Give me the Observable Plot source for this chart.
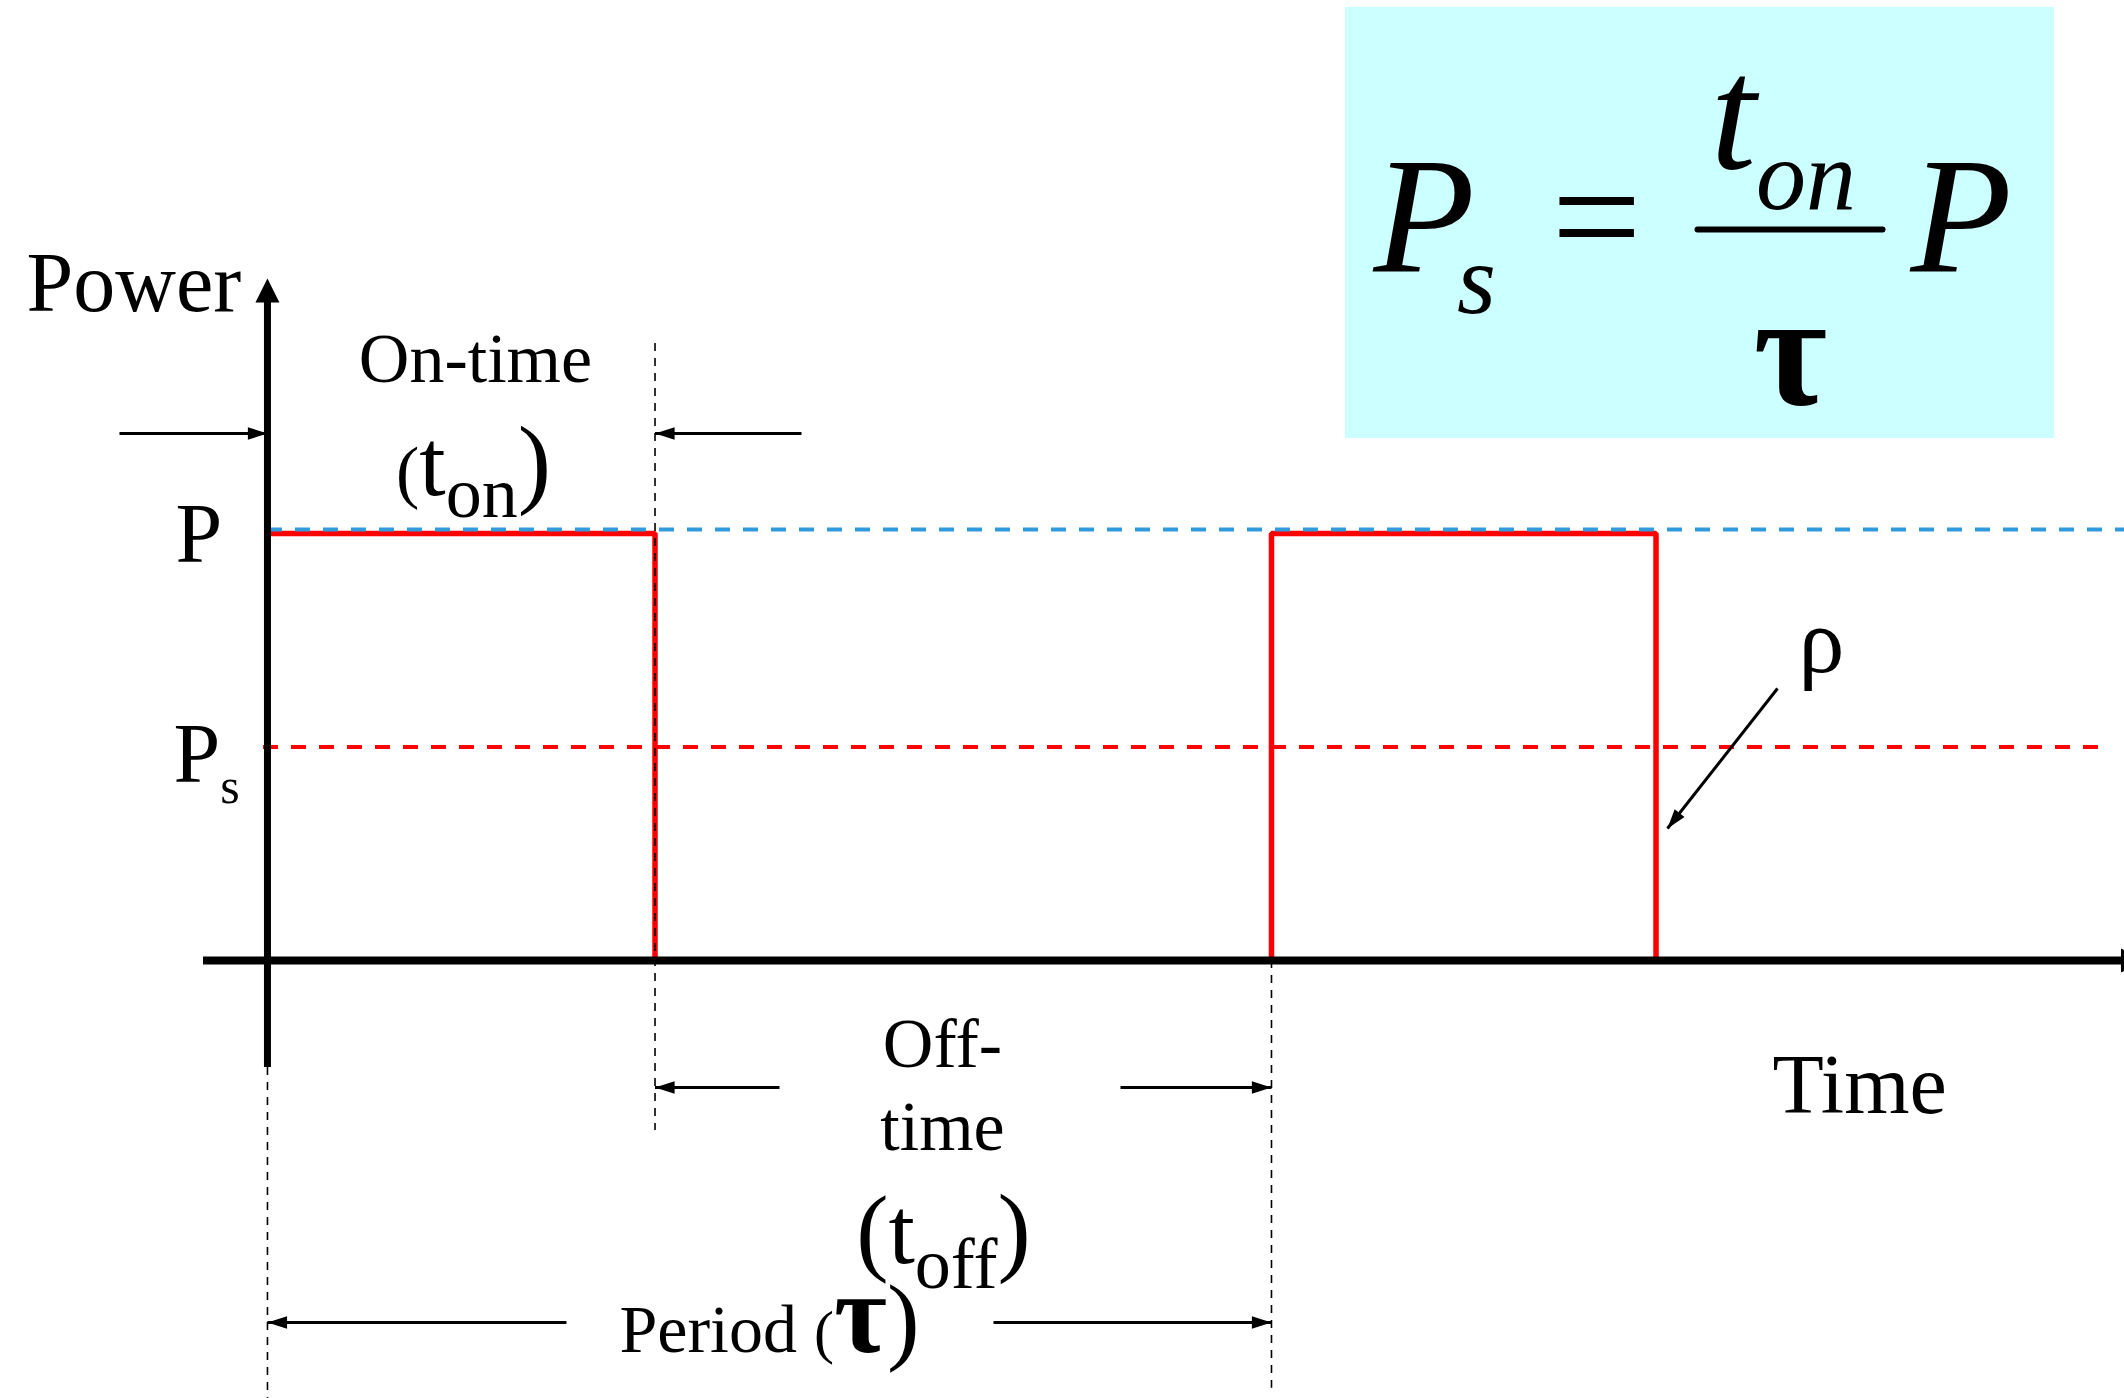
<!DOCTYPE html>
<html><head><meta charset="utf-8">
<script src="https://cdn.jsdelivr.net/npm/d3@7"></script>
<script src="https://cdn.jsdelivr.net/npm/@observablehq/plot@0.6"></script>
<style>html,body{margin:0;padding:0;background:#fff;overflow:hidden}</style>
</head><body><div id="chart"></div>
<script>
// ---------------- data ----------------
const onTimes = [0, 10];          // rising edges (period τ = 10)
const offTimes = [3.86, 13.83];   // falling edges (t_on ≈ 3.86)
const powerP = 1;                 // peak power P
const powerPs = 0.5;              // average power Ps (as drawn)
const levelLabels = ["P", "Ps"];
const axisLabels = ["Power", "Time"];
const intervalLabels = ["On-time", "(ton)", "Off-", "time", "(toff)", "Period (τ)"];
const dutyLabel = ["ρ"];
const formulaParts = ["Ps", "=", "ton", "τ", "P"];

// ---------------- scales (data units) ----------------
const W = 2124, H = 1398;
const xDomain = [-2.659, 18.496];
const yDomain = [-1.0258, 2.2482];
const kx = W / (xDomain[1] - xDomain[0]);
const ky = H / (yDomain[1] - yDomain[0]);

// pulse train built from edges
const pulse = [];
onTimes.forEach((t, i) => {
  pulse.push({t, p: 0});
  pulse.push({t, p: powerP});
  pulse.push({t: offTimes[i], p: powerP});
  pulse.push({t: offTimes[i], p: 0});
});

// ---------------- annotation layout ----------------
const yOnArrow = 1.2342, yOffArrow = -0.2974, yPeriodArrow = -0.8478;
const guides = [
  {x: onTimes[0], y1: -0.2506, y2: yDomain[0]},
  {x: offTimes[0], y1: 1.445, y2: -0.398},
  {x: onTimes[1], y1: 0, y2: -1.002}
];
const arrows = [
  {x1: -1.474, y1: yOnArrow, x2: onTimes[0], y2: yOnArrow},
  {x1: 5.319, y1: yOnArrow, x2: offTimes[0], y2: yOnArrow},
  {x1: 5.10, y1: yOffArrow, x2: offTimes[0], y2: yOffArrow},
  {x1: 8.496, y1: yOffArrow, x2: onTimes[1], y2: yOffArrow},
  {x1: 2.978, y1: yPeriodArrow, x2: onTimes[0], y2: yPeriodArrow},
  {x1: 7.231, y1: yPeriodArrow, x2: onTimes[1], y2: yPeriodArrow},
  {x1: 15.04, y1: 0.637, x2: 13.944, y2: 0.309}
];
const axisHeads = [
  {x1: 0, y1: 0, x2: 0, y2: 1.597},
  {x1: 0, y1: 0, x2: 18.70, y2: 0}
];
const rot = d => Math.atan2((d.x2 - d.x1) * kx, (d.y2 - d.y1) * ky) * 180 / Math.PI;

const headNarrow = {draw(ctx, size) { const r = Math.sqrt(size / Math.PI);
  ctx.moveTo(0, 0); ctx.lineTo(-0.45 * r, 1.4 * r); ctx.lineTo(0.45 * r, 1.4 * r); ctx.closePath(); }};
const headWide = {draw(ctx, size) { const r = Math.sqrt(size / Math.PI);
  ctx.moveTo(0, 0); ctx.lineTo(-0.5 * r, r); ctx.lineTo(0.5 * r, r); ctx.closePath(); }};

const lbl = (text, x, y, o = {}) => Plot.text([{text, x, y, id: o.id || ""}], {
  x: "x", y: "y", text: "text", lineAnchor: "bottom",
  textAnchor: o.anchor || "middle", fontSize: o.size,
  fontStyle: o.style, fontWeight: o.weight, ariaLabel: "id", fill: "black"
});

// rich-text styling (sizes / sub-script offsets)
const rich = {
  "lvl-ps": [{s: "P", size: 84}, {s: "s", size: 50, dy: 21}],
  "ton-lbl": [{s: "(", size: 70}, {s: "t", size: 95}, {s: "on", size: 72, dy: 22}, {s: ")", size: 100, dy: -22}],
  "toff-lbl": [{s: "(", size: 97}, {s: "t", size: 95}, {s: "off", size: 72, dy: 25}, {s: ")", size: 100, dy: -25}],
  "period-lbl": [{s: "Period ", size: 68}, {s: "(", size: 60}, {s: "τ", size: 115, weight: "bold"}, {s: ")", size: 98}],
  "f-ps": [{s: "P", size: 166, style: "italic"}, {s: "s", size: 100, style: "italic", dy: 41, dx: -18}],
  "f-ton": [{s: "t", size: 164, style: "italic"}, {s: "on", size: 100, style: "italic", dy: 41}]
};

const chart = Plot.plot({
  width: W, height: H,
  marginTop: 0, marginRight: 0, marginBottom: 0, marginLeft: 0,
  x: {domain: xDomain, axis: null},
  y: {domain: yDomain, axis: null},
  style: {fontFamily: "'Liberation Serif', 'Times New Roman', serif", background: "white", color: "black"},
  marks: [
    // formula box
    Plot.rect([{x1: 10.737, x2: 17.799, y1: 1.2225, y2: 2.232}], {x1: "x1", x2: "x2", y1: "y1", y2: "y2", fill: "#ccffff"}),
    // pulse train
    Plot.line(pulse, {x: "t", y: "p", stroke: "#ff0000", strokeWidth: 5.5, strokeLinejoin: "miter"}),
    // average power
    Plot.ruleY([powerPs], {x1: -0.04, x2: 18.257, stroke: "#ff0000", strokeWidth: 4, strokeDasharray: "15,13"}),
    // peak power reference
    Plot.ruleY([powerP], {x1: 0, x2: xDomain[1], dy: -4, stroke: "#3399dd", strokeWidth: 4, strokeDasharray: "15,13"}),
    // thin dashed guides
    Plot.ruleX(guides, {x: "x", y1: "y1", y2: "y2", stroke: "black", strokeWidth: 1.6, strokeDasharray: "8,7"}),
    // axes
    Plot.ruleX([0], {y1: -0.2506, y2: 1.55, stroke: "black", strokeWidth: 7}),
    Plot.ruleY([0], {x1: -0.637, x2: xDomain[1], stroke: "black", strokeWidth: 8}),
    Plot.dot(axisHeads, {x: "x2", y: "y2", rotate: rot, symbol: headWide, r: 24, fill: "black", stroke: "none"}),
    // dimension arrows
    Plot.link(arrows, {x1: "x1", y1: "y1", x2: "x2", y2: "y2", stroke: "black", strokeWidth: 3}),
    Plot.dot(arrows, {x: "x2", y: "y2", rotate: rot, symbol: headNarrow, r: 14, fill: "black", stroke: "none"}),
    // labels
    lbl(axisLabels[0], -2.3996, 1.5222, {anchor: "start", size: 84}),
    lbl(axisLabels[1], 14.990, -0.3583, {anchor: "start", size: 84}),
    lbl(levelLabels[0], -0.9163, 0.9321, {anchor: "start", size: 84}),
    lbl(levelLabels[1], -0.9363, 0.4169, {anchor: "start", size: 84, id: "lvl-ps"}),
    lbl(intervalLabels[0], 2.0717, 1.3536, {size: 70}),
    lbl(intervalLabels[1], 2.052, 1.089, {size: 90, id: "ton-lbl"}),
    lbl(intervalLabels[2], 6.723, -0.2506, {size: 70}),
    lbl(intervalLabels[3], 6.723, -0.445, {size: 70}),
    lbl(intervalLabels[4], 6.733, -0.7073, {size: 90, id: "toff-lbl"}),
    lbl(intervalLabels[5], 5.0, -0.918, {size: 68, id: "period-lbl"}),
    lbl(dutyLabel[0], 15.478, 0.6745, {size: 92}),
    // formula
    lbl(formulaParts[0], 11.016, 1.6112, {anchor: "start", size: 166, id: "f-ps"}),
    lbl(formulaParts[1], 13.237, 1.6159, {size: 160}),
    lbl(formulaParts[2], 14.373, 1.857, {anchor: "start", size: 160, id: "f-ton"}),
    Plot.link([{x1: 14.243, x2: 16.086, y: 1.712}], {x1: "x1", x2: "x2", y1: "y", y2: "y", stroke: "black", strokeWidth: 6, strokeLinecap: "round"}),
    lbl(formulaParts[3], 15.169, 1.3044, {size: 160, weight: "bold"}),
    lbl(formulaParts[4], 16.365, 1.6112, {anchor: "start", size: 166, style: "italic"})
  ]
});

// apply rich-text (tspans) to composite labels
const NS = "http://www.w3.org/2000/svg";
for (const [id, parts] of Object.entries(rich)) {
  const t = chart.querySelector(`text[aria-label="${id}"]`);
  if (!t) continue;
  t.textContent = "";
  for (const p of parts) {
    const ts = document.createElementNS(NS, "tspan");
    ts.textContent = p.s;
    ts.setAttribute("font-size", p.size);
    if (p.style) ts.setAttribute("font-style", p.style);
    if (p.weight) ts.setAttribute("font-weight", p.weight);
    if (p.dy) ts.setAttribute("dy", p.dy);
    if (p.dx) ts.setAttribute("dx", p.dx);
    t.appendChild(ts);
  }
}
document.getElementById("chart").appendChild(chart);
</script>
</body></html>
